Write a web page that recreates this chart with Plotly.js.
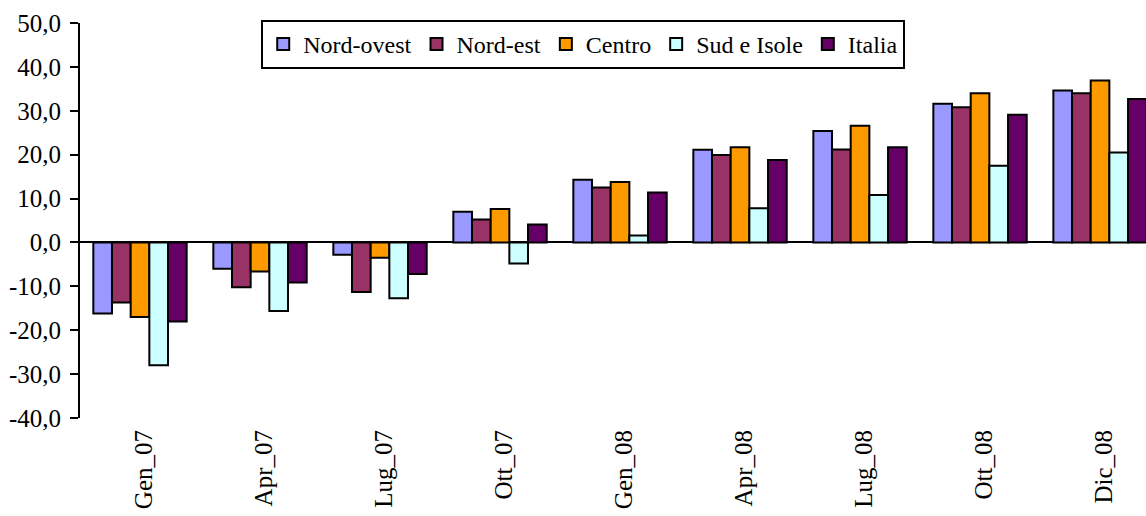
<!DOCTYPE html>
<html>
<head>
<meta charset="utf-8">
<script src="https://cdn.plot.ly/plotly-3.0.1.min.js"></script>
<style>
html,body{margin:0;padding:0;background:#fff;}
#chart{width:1146px;height:516px;}
</style>
</head>
<body>
<div id="chart"></div>
<script>
var categories = ["Gen_07","Apr_07","Lug_07","Ott_07","Gen_08","Apr_08","Lug_08","Ott_08","Dic_08"];
var seriesNames = ["Nord-ovest","Nord-est","Centro","Sud e Isole","Italia"];
var nordOvest = [-16.2, -6.0, -2.8, 7.0, 14.3, 21.1, 25.4, 31.6, 34.6];
var nordEst   = [-13.7, -10.2, -11.3, 5.2, 12.5, 19.9, 21.2, 30.8, 34.0];
var centro    = [-17.0, -6.6, -3.5, 7.6, 13.8, 21.7, 26.6, 34.0, 36.9];
var sudIsole  = [-28.0, -15.6, -12.7, -4.8, 1.6, 7.8, 10.8, 17.5, 20.5];
var italia    = [-18.0, -9.1, -7.2, 4.1, 11.4, 18.8, 21.7, 29.1, 32.7];
var yTickVals = [-40, -30, -20, -10, 0, 10, 20, 30, 40, 50];
var yTickText = yTickVals.map(function(v){ return v.toFixed(1).replace(".", ","); });

var colors = ["#9999FF", "#993366", "#FF9900", "#CCFFFF", "#660066"];
var values = [nordOvest, nordEst, centro, sudIsole, italia];

var traces = values.map(function(v, i){
  return {
    type: "bar",
    name: seriesNames[i],
    x: categories,
    y: v,
    marker: {color: colors[i], line: {color: "#000000", width: 2}}
  };
});

var serif = "Liberation Serif";

var layout = {
  width: 1146,
  height: 516,
  margin: {l: 80, r: 0, t: 23, b: 98},
  paper_bgcolor: "#ffffff",
  plot_bgcolor: "#ffffff",
  barmode: "group",
  bargap: 0.222,
  bargroupgap: 0,
  showlegend: true,
  font: {family: serif, color: "#000000", size: 22},
  legend: {
    orientation: "h",
    x: 0.17, xanchor: "left",
    y: 1.008, yanchor: "top",
    bgcolor: "#ffffff",
    bordercolor: "#000000",
    borderwidth: 2,
    font: {family: serif, size: 24, color: "#000000"},
    traceorder: "normal",
    itemwidth: 30,
    tracegroupgap: 0
  },
  xaxis: {
    type: "category",
    range: [-0.5, 8.383],
    showline: false,
    showgrid: false,
    zeroline: false,
    ticks: "",
    tickangle: -90,
    ticklabelstandoff: 6,
    ticklabelshift: 4,
    tickfont: {family: serif, size: 25, color: "#000000"},
    fixedrange: true
  },
  yaxis: {
    range: [-40, 50],
    tickmode: "array",
    tickvals: yTickVals,
    ticktext: yTickText,
    showline: true,
    linecolor: "#000000",
    linewidth: 2,
    ticks: "outside",
    ticklen: 8,
    tickwidth: 2,
    tickcolor: "#000000",
    ticklabelstandoff: 4,
    showgrid: false,
    zeroline: true,
    zerolinecolor: "#000000",
    zerolinewidth: 2,
    tickfont: {family: serif, size: 25, color: "#000000"},
    fixedrange: true
  }
};

Plotly.newPlot("chart", traces, layout, {displayModeBar: false});
</script>
</body>
</html>
